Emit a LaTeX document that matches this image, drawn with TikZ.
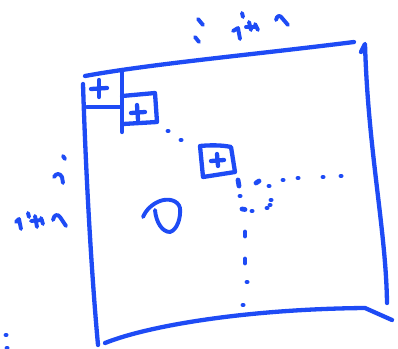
\documentclass[tikz,border=0pt]{standalone}
\definecolor{ink}{RGB}{30,75,245}
\begin{document}
\begin{tikzpicture}[x=1pt,y=-1pt,
  pen/.style={draw=ink,line width=4.3pt,line cap=round,line join=round},
  thin pen/.style={draw=ink,line width=3.9pt,line cap=round,line join=round},
  dotpen/.style={draw=ink,line width=4.8pt,line cap=round}]
\useasboundingbox (0,0) rectangle (398,348);
% big square
\draw[pen] (85,76) .. controls (150,64) and (250,55) .. (354,42);
\draw[pen] (361,52) -- (365,44) .. controls (368,150) and (386,230) .. (387,303);
\draw[pen] (105,343) .. controls (150,325) and (250,309) .. (365,308) -- (392,320);
\draw[pen] (83,84) .. controls (86,180) and (92,280) .. (98,345);
% corner square
\draw[pen] (87,107) -- (121,107);
\draw[pen] (122,70) -- (122,132);
\draw[pen] (99,80) -- (99,97);
\draw[pen] (91,89) -- (107,88);
% second square
\draw[pen] (122,96) -- (155,93) -- (157,122) -- (123,124);
\draw[pen] (137,105) -- (138,120);
\draw[pen] (131,113) -- (145,112);
% third square
\draw[pen] (200,146) .. controls (210,145) and (222,145) .. (231,147) -- (235,172) -- (203,177) -- cycle;
\draw[pen] (217,154) -- (218,166);
\draw[pen] (211,161) -- (224,160);
% dots
\foreach \p in {(168,131),(181,140),(269,186),(283,180),(298,178),(323,177),(341,176),(240,196),(252,211),(267,208),(270,205),(271,200),(247,282),(243,305)}
  \draw[dotpen] \p -- ++(0.1,0);
\draw[dotpen] (238,180) -- (239,186);
\draw[dotpen] (256,183) -- (259,181);
\draw[dotpen] (242,209) -- (245,209.5);
\draw[dotpen] (245,232) -- (245,236);
\draw[dotpen] (245,259) -- (245,263);
\draw[dotpen] (6,335) -- ++(0.1,0);
\draw[dotpen] (7,348) -- ++(0.1,0);
% D glyph
\draw[thin pen] (155,210) .. controls (156,222) and (162,232) .. (170,232)
  .. controls (177,230) and (181,218) .. (180,208)
  .. controls (178,200) and (168,198) .. (160,201)
  .. controls (152,204) and (146,210) .. (143,217);
% top label
\draw[thin pen] (198,19) -- (203,25);
\draw[thin pen] (195,37) -- (199,42);
\draw[thin pen] (233,31) -- (238,28) -- (240,39);
\draw[thin pen] (242,13) -- (243,17);
\draw[thin pen] (249,22) -- (251,30);
\draw[thin pen] (246,27) -- (256,27);
\draw[thin pen] (255,24) -- (258,30);
\draw[thin pen] (276,20) .. controls (277,15) and (280,15) .. (282,18) -- (288,25);
% left label
\draw[thin pen] (63,156) -- (65,159);
\draw[thin pen] (54,177) .. controls (56,173) and (60,173) .. (62,177) -- (63,183);
\draw[thin pen] (16,222) -- (19,219) -- (21,229);
\draw[thin pen] (28,213) -- (29,217);
\draw[thin pen] (35,216) -- (37,227);
\draw[thin pen] (31,221) -- (42,220);
\draw[thin pen] (41,218) -- (43,224);
\draw[thin pen] (53,220) .. controls (54,214) and (58,214) .. (60,217) -- (66,226);
\end{tikzpicture}
\end{document}
